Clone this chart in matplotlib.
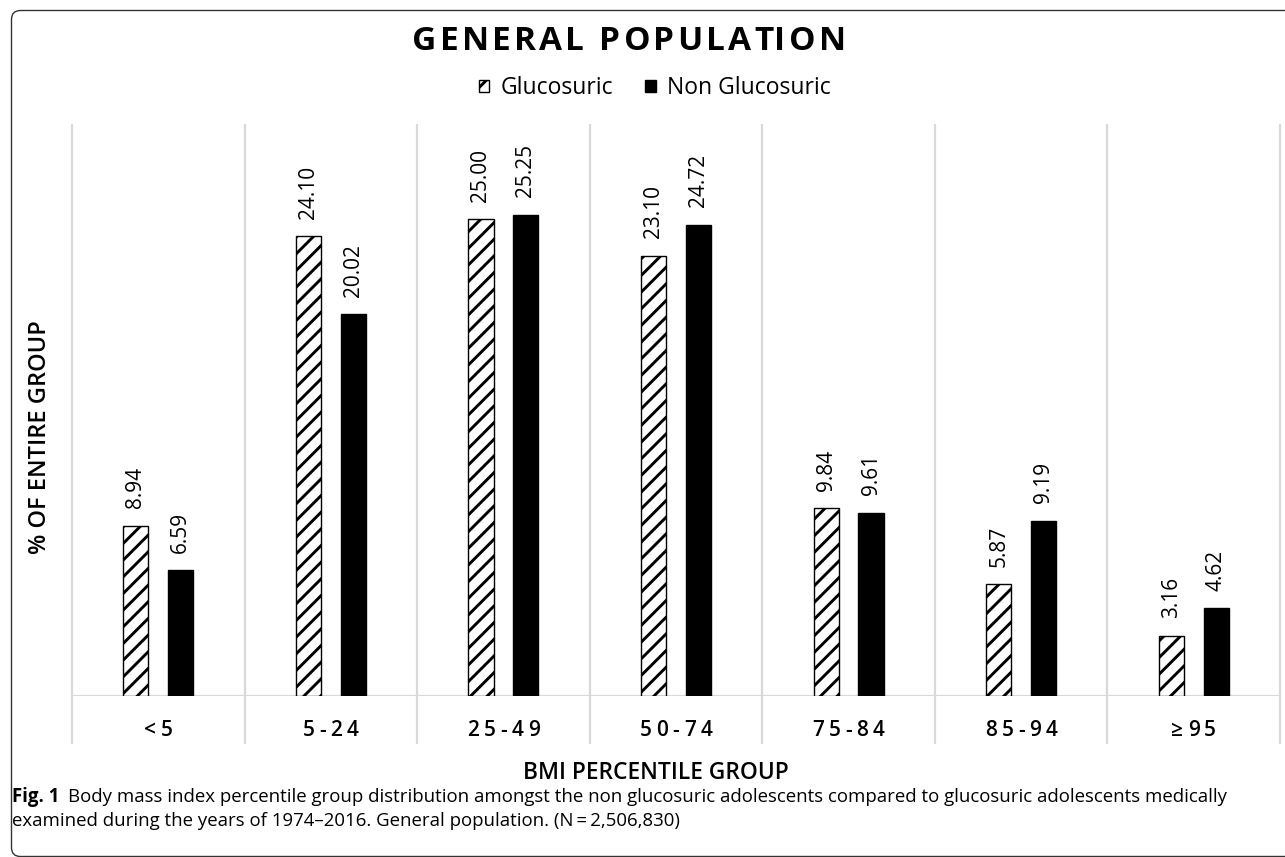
import matplotlib.pyplot as plt
from matplotlib.patches import FancyBboxPatch, Patch
from matplotlib.transforms import IdentityTransform

plt.rcParams['font.family'] = ['Open Sans', 'DejaVu Sans']
plt.rcParams['hatch.linewidth'] = 2.1

# Data
groups = ["<5", "5-24", "25-49", "50-74", "75-84", "85-94", "≥95"]
glucosuric = [8.94, 24.10, 25.00, 23.10, 9.84, 5.87, 3.16]
non_glucosuric = [6.59, 20.02, 25.25, 24.72, 9.61, 9.19, 4.62]

grid_color = '#d9d9d9'
W, H = 1285, 857

fig = plt.figure(figsize=(W / 100, H / 100), dpi=100)
ax = fig.add_axes([72 / W, 1 - 696 / H, 1208 / W, 572 / H])
renderer = fig.canvas.get_renderer()


def text_width(s, **kw):
    if not s:
        return 0.0
    t = fig.text(0, 0, s, **kw)
    w = t.get_window_extent(renderer).width
    t.remove()
    return w


def tracked_text(s, xc, y, track, transform, **kw):
    """Draw s centred on xc (pixels) with extra letter spacing."""
    total = text_width(s, **kw) + track * (len(s) - 1)
    left = xc - total / 2
    for i, ch in enumerate(s):
        px = left + text_width(s[:i], **kw) + track * i
        fig.text(px / W, y, ch, ha='left', va='center',
                 transform=transform, **kw)


x = list(range(len(groups)))
w = 0.145
off = 0.13

b1 = ax.bar([i - off for i in x], glucosuric, w, color='white',
            edgecolor='black', linewidth=1.0, hatch='//', zorder=3)
b2 = ax.bar([i + off for i in x], non_glucosuric, w, color='black',
            edgecolor='black', linewidth=1.0, zorder=3)

# value labels above bars, rotated
for bars, vals in ((b1, glucosuric), (b2, non_glucosuric)):
    for bar, v in zip(bars, vals):
        ax.annotate(f"{v:.2f}", (bar.get_x() + bar.get_width() / 2, v),
                    xytext=(0, 12.5), textcoords='offset points',
                    rotation=90, ha='center', va='bottom', fontsize=15)

ax.set_xlim(-0.5, len(groups) - 0.5)
ax.set_ylim(0, 30)

# category dividers run below the baseline through the label row
ax.vlines([i - 0.5 for i in range(len(groups) + 1)], -2.5, 30,
          color=grid_color, linewidth=1.6, clip_on=False, zorder=1)
ax.axhline(0, color=grid_color, linewidth=1.6, zorder=2)

for s in ax.spines.values():
    s.set_visible(False)
ax.set_xticks([])
ax.set_yticks([])

# category labels, letter-spaced, centred in each column
cat_y = 1 - 731 / H
for i, g in enumerate(groups):
    xc = ax.transData.transform((i, 0))[0]
    tracked_text(g, xc, cat_y, 4.5, fig.transFigure, fontsize=15,
                 fontweight='semibold')

# titles and axis labels
tracked_text("GENERAL POPULATION", 629, 1 - 41 / H, 3.2, fig.transFigure,
             fontsize=24, fontweight='bold')
fig.text(40 / W, 1 - 437 / H, "% OF ENTIRE GROUP", rotation=90,
         ha='center', va='center', fontsize=17, fontweight='semibold')
fig.text(656 / W, 1 - 773 / H, "BMI PERCENTILE GROUP", ha='center',
         va='center', fontsize=16.4, fontweight='semibold')

handles = [Patch(facecolor='white', edgecolor='black', hatch='//',
                 linewidth=1.0),
           Patch(facecolor='black', edgecolor='black')]
fig.legend(handles, ["Glucosuric", "Non Glucosuric"], ncol=2,
           loc='center', bbox_to_anchor=(655 / W, 1 - 88 / H),
           frameon=False, fontsize=16.5, handlelength=0.45,
           handleheight=0.45, handletextpad=0.5, columnspacing=1.4)

# caption
cap_y1 = 1 - 797 / H
cap_y2 = 1 - 821 / H
fig_lbl = fig.text(12 / W, cap_y1, "Fig. 1", ha='left', va='center',
                   fontsize=13.4, fontweight='bold')
bb = fig_lbl.get_window_extent(renderer)
fig.text((bb.x1 + 9) / W, cap_y1,
         "Body mass index percentile group distribution amongst the non "
         "glucosuric adolescents compared to glucosuric adolescents medically",
         ha='left', va='center', fontsize=13.4)
fig.text(12 / W, cap_y2,
         "examined during the years of 1974\u20132016. General population. "
         "(N\u2009=\u20092,506,830)",
         ha='left', va='center', fontsize=13.4)

# rounded frame around the figure panel
frame = FancyBboxPatch((11.5, 0.5), 1300, 846,
                       boxstyle='round,pad=0,rounding_size=9',
                       transform=IdentityTransform(), facecolor='none',
                       edgecolor='#333333', linewidth=1.0)
fig.patches.append(frame)

fig.savefig("out.png", dpi=100)
